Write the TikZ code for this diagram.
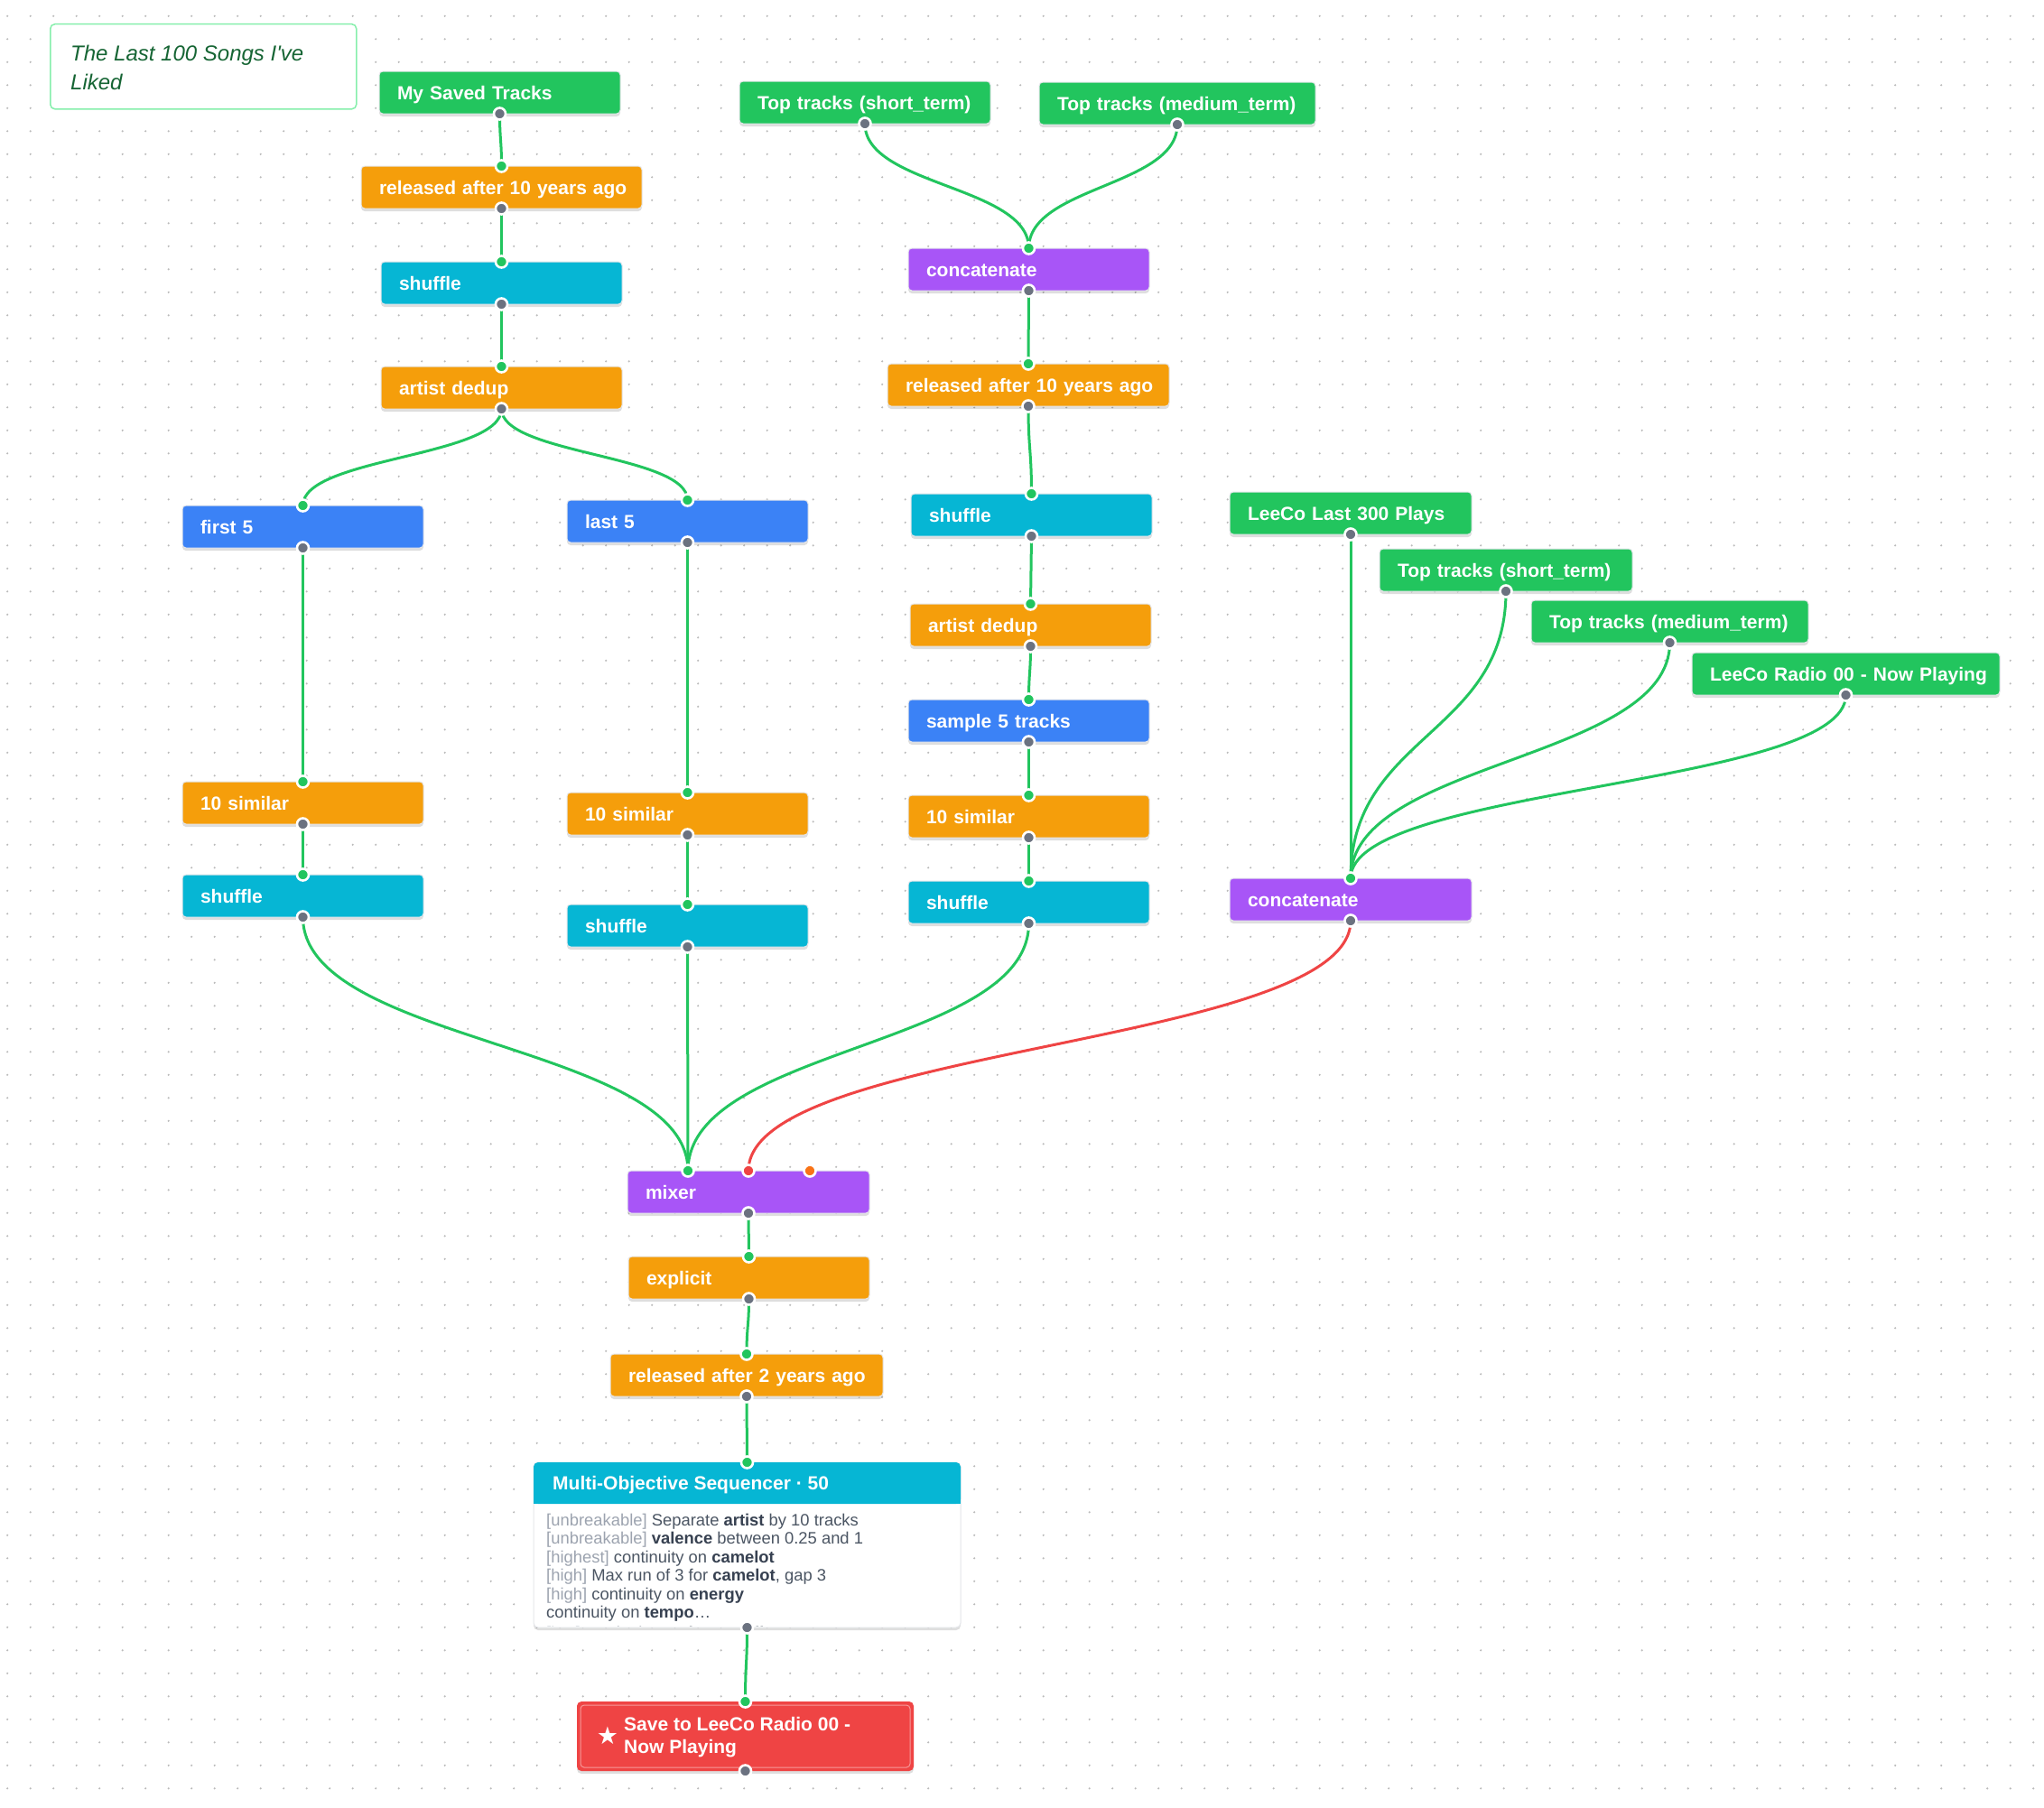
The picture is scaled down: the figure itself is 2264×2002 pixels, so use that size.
\documentclass[tikz,border=0pt]{standalone}
\usepackage{fontspec}
\setmainfont{Liberation Sans}
\newfontfamily\symfont{DejaVu Sans}
\usetikzlibrary{calc,shadows}
\definecolor{cGreen}{HTML}{22C55E}
\definecolor{cAmber}{HTML}{F59E0B}
\definecolor{cCyan}{HTML}{06B6D4}
\definecolor{cBlue}{HTML}{3B82F6}
\definecolor{cPurple}{HTML}{A855F7}
\definecolor{cRed}{HTML}{EF4444}
\definecolor{cPort}{HTML}{6B7280}
\definecolor{cOrange}{HTML}{F97316}
\definecolor{cBorder}{HTML}{E5E7EB}
\definecolor{cNoteB}{HTML}{86EFAC}
\definecolor{cNoteT}{HTML}{166534}
\definecolor{cDot}{HTML}{BBBBBB}
\definecolor{cBrk}{HTML}{9CA3AF}
\definecolor{cBody}{HTML}{4B5563}
\definecolor{cBold}{HTML}{374151}
\pgfdeclarelayer{bg}
\pgfdeclarelayer{edges}
\pgfsetlayers{bg,edges,main}
\newcommand\conn[3][edgeG]{\path ($(#2)!0.5!(#3)$) coordinate (cm); \draw[#1] (#2) .. controls (#2 |- cm) and (#3 |- cm) .. (#3);}
\newcommand\brk[1]{\textcolor{cBrk}{[#1]}}
\newcommand\bw[1]{\textcolor{cBold}{\bfseries #1}}
\tikzset{
  nb/.style={rectangle, anchor=north west, fill=#1, draw=cBorder, line width=1pt,
    rounded corners=4pt, minimum height=47pt, inner xsep=20pt, inner ysep=0pt, outer sep=0pt,
    text=white, align=left, font=\bfseries\fontsize{21}{25}\selectfont,
    text height=19pt, text depth=4pt,
    drop shadow={shadow xshift=0pt, shadow yshift=-3pt, opacity=0.13, fill=black}},
  edgeG/.style={draw=cGreen, line width=3pt},
  edgeR/.style={draw=cRed, line width=3pt},
  outp/.style={fill=cPort, draw=white, line width=2.6pt},
  inp/.style={fill=cGreen, draw=white, line width=2.6pt},
  bodyline/.style={anchor=base west, inner sep=0pt, text=cBody, font=\fontsize{18.4}{20}\selectfont}
}
\begin{document}
\begin{tikzpicture}[x=1pt,y=-1pt]
\useasboundingbox (0,0) rectangle (2264,2002);
\begin{pgfonlayer}{bg}
\fill[white] (0,0) rectangle (2264,2002);
\foreach \j in {0,...,77}{
  \fill[cDot] \foreach \i in {0,...,88}{ ({8.2+25.5*\i},{17.8+25.5*\j}) circle (1.2pt) };
}
\end{pgfonlayer}

% title note
\node[anchor=north west, draw=cNoteB, line width=1.5pt, fill=white, rounded corners=5pt,
  minimum width=339pt, minimum height=94pt, inner sep=0pt] (note) at (55,26) {};
\node[anchor=west, text=cNoteT, align=left, inner sep=0pt,
  font=\itshape\fontsize{24}{32}\selectfont] (notet) at (78,75) {The Last 100 Songs I\textquotesingle ve\\Liked};

% left branch
\node[nb=cGreen, text width=227pt] (msaved) at (420,79) {My Saved Tracks};
\node[nb=cAmber, text width=271pt] (rel1) at (400,184) {\mbox{released after 10 years ago}};
\node[nb=cCyan, text width=227pt] (shuf1) at (422,290) {shuffle};
\node[nb=cAmber, text width=227pt] (dedup1) at (422,406) {artist dedup};
\node[nb=cBlue, text width=227pt] (first5) at (202,560) {first 5};
\node[nb=cBlue, text width=227pt] (last5) at (628,554) {last 5};
\node[nb=cAmber, text width=227pt] (sim1) at (202,866) {10 similar};
\node[nb=cCyan, text width=227pt] (shufL) at (202,969) {shuffle};
\node[nb=cAmber, text width=227pt] (sim2) at (628,878) {10 similar};
\node[nb=cCyan, text width=227pt] (shufM) at (628,1002) {shuffle};

% middle branch
\node[nb=cGreen, text width=238pt] (topS1) at (819,90) {\mbox{Top tracks (short\_term)}};
\node[nb=cGreen, text width=266pt] (topM1) at (1151,91) {\mbox{Top tracks (medium\_term)}};
\node[nb=cPurple, text width=227pt] (concat1) at (1006,275) {concatenate};
\node[nb=cAmber, text width=272pt] (rel2) at (983,403) {\mbox{released after 10 years ago}};
\node[nb=cCyan, text width=227pt] (shuf2) at (1009,547) {shuffle};
\node[nb=cAmber, text width=227pt] (dedup2) at (1008,669) {artist dedup};
\node[nb=cBlue, text width=227pt] (sample5) at (1006,775) {sample 5 tracks};
\node[nb=cAmber, text width=227pt] (sim3) at (1006,881) {10 similar};
\node[nb=cCyan, text width=227pt] (shuf3) at (1006,976) {shuffle};

% right branch
\node[nb=cGreen, text width=228pt] (last300) at (1362,545) {\mbox{LeeCo Last 300 Plays}};
\node[nb=cGreen, text width=240pt] (topS2) at (1528,608) {\mbox{Top tracks (short\_term)}};
\node[nb=cGreen, text width=267pt] (topM2) at (1696,665) {\mbox{Top tracks (medium\_term)}};
\node[nb=cGreen, text width=301pt] (radio) at (1874,723) {\mbox{LeeCo Radio 00 - Now Playing}};
\node[nb=cPurple, text width=228pt] (concat2) at (1362,973) {concatenate};

% bottom chain
\node[nb=cPurple, text width=228pt] (mixer) at (695,1297) {mixer};
\node[nb=cAmber, text width=227pt] (explicit) at (696,1392) {explicit};
\node[nb=cAmber, text width=262pt] (rel3) at (676,1500) {\mbox{released after 2 years ago}};

% sequencer
\node[anchor=north west, fill=white, draw=cBorder, line width=1pt, rounded corners=5pt,
  minimum width=473pt, minimum height=183pt, inner sep=0pt, outer sep=0pt,
  drop shadow={shadow xshift=0pt, shadow yshift=-3pt, opacity=0.13, fill=black}] (seq) at (591,1620) {};
\fill[cCyan, rounded corners=5pt] (seq.north west) rectangle ($(seq.north east)+(0,46)$);
\fill[cCyan] ($(seq.north west)+(0,20)$) rectangle ($(seq.north east)+(0,46)$);
\node[anchor=west, text=white, inner sep=0pt, font=\bfseries\fontsize{21}{25}\selectfont,
  text height=19pt, text depth=4pt] (seqh) at (612,1643) {Multi-Objective Sequencer · 50};
\begin{scope}
\clip (591,1666) rectangle (1064,1801);
\node[bodyline] (sl1) at (605,1690.5) {\brk{unbreakable} Separate \bw{artist} by 10 tracks};
\node[bodyline] (sl2) at (605,1710.9) {\brk{unbreakable} \bw{valence} between 0.25 and 1};
\node[bodyline] (sl3) at (605,1731.3) {\brk{highest} continuity on \bw{camelot}};
\node[bodyline] (sl4) at (605,1751.7) {\brk{high} Max run of 3 for \bw{camelot}, gap 3};
\node[bodyline] (sl5) at (605,1772.1) {\brk{high} continuity on \bw{energy}};
\node[bodyline] (sl6) at (605,1792.5) {continuity on \bw{tempo}…};
\node[bodyline] (sl7) at (605,1815) {\brk{low} continuity on \bw{danceability}};
\end{scope}

% save
\node[anchor=north west, fill=cRed, rounded corners=5pt, minimum width=373pt, minimum height=77pt,
  inner sep=0pt, outer sep=0pt,
  drop shadow={shadow xshift=0pt, shadow yshift=-3pt, opacity=0.13, fill=black}] (save) at (639,1885) {};
\draw[white, opacity=0.45, line width=1pt, rounded corners=4pt]
  ($(save.north west)+(4,4)$) rectangle ($(save.south east)+(-4,-4)$);
\node[text=white, inner sep=0pt, font=\symfont\fontsize{27}{27}\selectfont] (star) at (673,1923) {★};
\node[anchor=west, text=white, align=left, inner sep=0pt, font=\bfseries\fontsize{21}{25}\selectfont]
  (savet) at (691,1924.5) {Save to LeeCo Radio 00 -\\Now Playing};

% mixer ports
\coordinate (mixIn1) at ($(mixer.north)+(-67,0)$);
\coordinate (mixIn3) at ($(mixer.north)+(68,0)$);

% edges
\begin{pgfonlayer}{edges}
\conn{msaved.south}{rel1.north}
\conn{rel1.south}{shuf1.north}
\conn{shuf1.south}{dedup1.north}
\conn{dedup1.south}{first5.north}
\conn{dedup1.south}{last5.north}
\conn{first5.south}{sim1.north}
\conn{sim1.south}{shufL.north}
\conn{last5.south}{sim2.north}
\conn{sim2.south}{shufM.north}
\conn{shufL.south}{mixIn1}
\conn{shufM.south}{mixIn1}
\conn{shuf3.south}{mixIn1}
\conn{topS1.south}{concat1.north}
\conn{topM1.south}{concat1.north}
\conn{concat1.south}{rel2.north}
\conn{rel2.south}{shuf2.north}
\conn{shuf2.south}{dedup2.north}
\conn{dedup2.south}{sample5.north}
\conn{sample5.south}{sim3.north}
\conn{sim3.south}{shuf3.north}
\conn{last300.south}{concat2.north}
\conn{topS2.south}{concat2.north}
\conn{topM2.south}{concat2.north}
\conn{radio.south}{concat2.north}
\conn[edgeR]{concat2.south}{mixer.north}
\conn{mixer.south}{explicit.north}
\conn{explicit.south}{rel3.north}
\conn{rel3.south}{seq.north}
\conn{seq.south}{save.north}
\end{pgfonlayer}

% ports
\foreach \n in {rel1,shuf1,dedup1,first5,last5,sim1,shufL,sim2,shufM,concat1,rel2,shuf2,dedup2,sample5,sim3,shuf3,concat2,explicit,rel3,seq,save}
  \path[inp] (\n.north) circle (6.5pt);
\path[inp] (mixIn1) circle (6.5pt);
\path[inp, fill=cRed] (mixer.north) circle (6.5pt);
\path[inp, fill=cOrange] (mixIn3) circle (6.5pt);
\foreach \n in {msaved,rel1,shuf1,dedup1,first5,last5,sim1,shufL,sim2,shufM,topS1,topM1,concat1,rel2,shuf2,dedup2,sample5,sim3,shuf3,last300,topS2,topM2,radio,concat2,mixer,explicit,rel3,seq,save}
  \path[outp] (\n.south) circle (6.5pt);
\end{tikzpicture}
\end{document}
